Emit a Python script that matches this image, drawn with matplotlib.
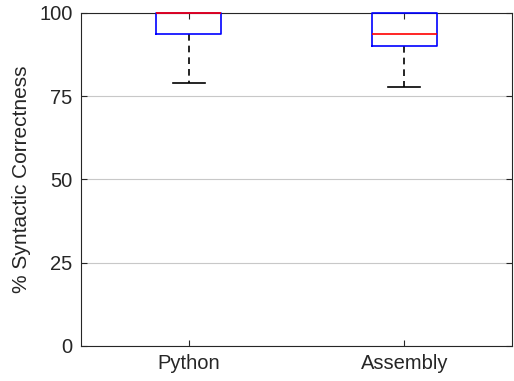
import matplotlib
matplotlib.use("Agg")
import matplotlib.pyplot as plt

plt.rcParams['font.family'] = ['Liberation Sans', 'DejaVu Sans']

categories = ["Python", "Assembly"]
whislo = [79.0, 77.8]
q1 = [93.7, 90.0]
med = [100.0, 93.7]
q3 = [100.0, 100.0]
whishi = [100.0, 100.0]
yticks = [0, 25, 50, 75, 100]

fig = plt.figure(figsize=(5.14, 3.81), dpi=100)
ax = fig.add_axes([0.1576, 0.0919, 0.8384, 0.874])

stats = [dict(label=c, whislo=a, q1=b, med=m, q3=d, whishi=e, fliers=[])
         for c, a, b, m, d, e in zip(categories, whislo, q1, med, q3, whishi)]
res = ax.bxp(stats, positions=[1, 2], widths=0.3, showfliers=False,
             boxprops=dict(color='#0000ff', linewidth=1.2),
             medianprops=dict(color='#ff0000', linewidth=1.2),
             whiskerprops=dict(color='black', linestyle=(0, (4, 3)), linewidth=1.2),
             capprops=dict(color='black', linewidth=1.2), capwidths=0.15)
zorders = {'whiskers': 4, 'caps': 4, 'boxes': 5, 'medians': 6}
for key, z in zorders.items():
    for ln in res[key]:
        ln.set_clip_on(False)
        ln.set_zorder(z)
# upper whiskers/caps have zero length at 100 and are hidden in the reference
for ln in res['caps'][1::2]:
    ln.set_visible(False)

ax.set_xlim(0.5, 2.5)
ax.set_ylim(0, 100)
ax.set_yticks(yticks)
ax.set_yticklabels([str(t) for t in yticks])
ax.yaxis.grid(True, color='#c8c8c8', linewidth=0.8)
ax.set_axisbelow(True)
ax.set_ylabel("% Syntactic Correctness", fontsize=15, color='#262626', labelpad=6)
ax.tick_params(axis='both', labelsize=14.5, direction='in', length=4, color='#262626',
               labelcolor='#262626', top=True, right=True)
ax.tick_params(axis='y', pad=6)
ax.tick_params(axis='x', pad=6)
for s in ax.spines.values():
    s.set_color('#262626')
    s.set_linewidth(0.8)

fig.savefig("out.png", dpi=100)
